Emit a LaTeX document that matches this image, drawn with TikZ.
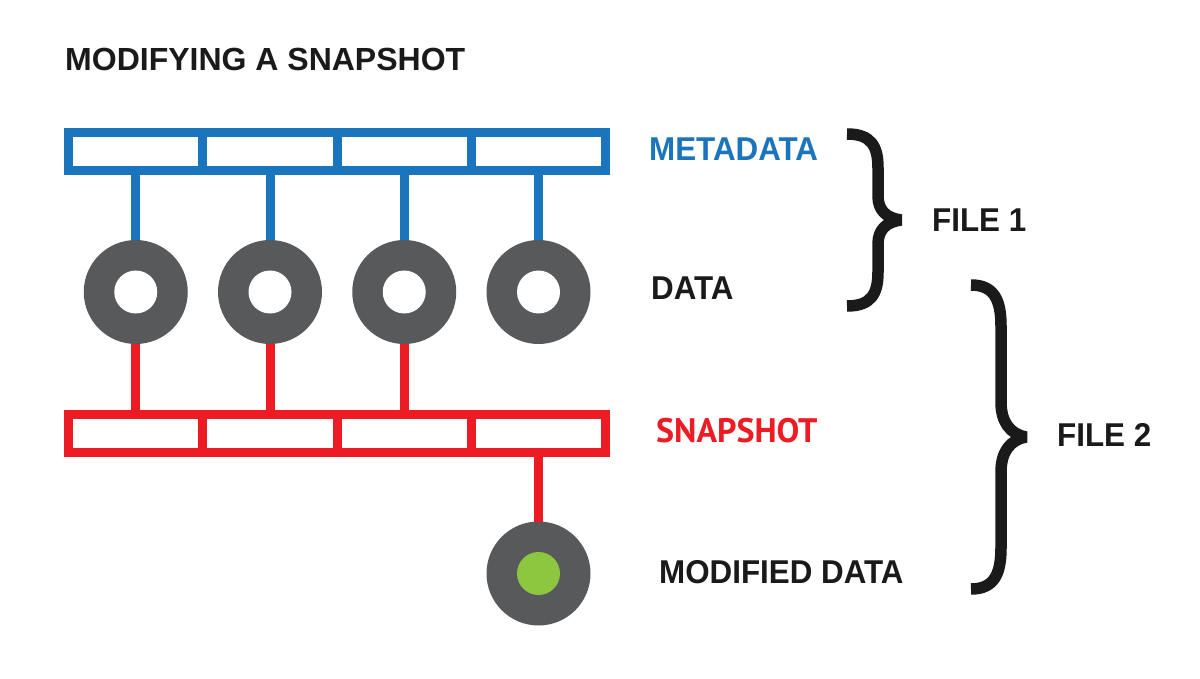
\documentclass[tikz,border=0pt]{standalone}
\usepackage{fontspec}
\setmainfont{Liberation Sans}
\newfontfamily\labfont[FakeStretch=0.95]{Liberation Sans}
\newfontfamily\snapfont{PT Sans}
\definecolor{mblue}{HTML}{1B75BC}
\definecolor{sred}{HTML}{ED1C24}
\definecolor{dgray}{HTML}{58595B}
\definecolor{mgreen}{HTML}{8DC63F}
\definecolor{tblack}{HTML}{1A1A1A}
\tikzset{
  cellbox/.style={rectangle, inner sep=0pt, outer sep=0pt, minimum width=134.25pt, minimum height=38pt, line width=9pt, fill=white},
  bluecell/.style={cellbox, draw=mblue},
  redcell/.style={cellbox, draw=sred},
  donut/.style={circle, inner sep=0pt, outer sep=0pt, minimum size=104pt, fill=dgray},
  bluelink/.style={draw=mblue, line width=9pt},
  redlink/.style={draw=sred, line width=9pt},
  lab/.style={anchor=base west, inner sep=0pt, text=tblack, font=\labfont\bfseries\fontsize{33}{38}\selectfont},
  bracepath/.style={draw=tblack, line width=11.5pt, line join=bevel},
}
\begin{document}
\begin{tikzpicture}[x=1pt,y=-1pt]
\useasboundingbox[fill=white] (0,0) rectangle (1200,679);
% title
\node[anchor=base west, inner sep=0pt, text=tblack, font=\bfseries\fontsize{32}{38}\selectfont] (title) at (65,71) {MODIFYING A SNAPSHOT};
% metadata cells
\foreach \i/\x in {1/135.75,2/270,3/404.25,4/538.5}{
  \node[bluecell] (m\i) at (\x,151.5) {};
}
% data donuts
\foreach \i/\x in {1/135.75,2/270,3/404.25,4/538.5}{
  \node[donut] (d\i) at (\x,292) {};
  \fill[white] (d\i.center) circle (21.5);
}
% snapshot cells
\foreach \i/\x in {1/135.75,2/270,3/404.25,4/538.5}{
  \node[redcell] (s\i) at (\x,433) {};
}
% links
\foreach \i in {1,2,3,4}{
  \path[bluelink] (m\i.south) -- (d\i.north);
}
\foreach \i in {1,2,3}{
  \path[redlink] (d\i.south) -- (s\i.north);
}
% modified data donut
\node[donut] (g) at (538.5,573.5) {};
\fill[mgreen] (g.center) circle (21.5);
\path[redlink] (s4.south) -- (g.north);
% labels
\node[lab, text=mblue] (lmeta) at (649,161) {METADATA};
\node[lab] (ldata) at (651,300) {DATA};
\node[anchor=base west, inner sep=0pt, text=sred, font=\snapfont\bfseries\fontsize{34}{40}\selectfont] (lsnap) at (656,442) {SNAPSHOT};
\node[lab] (lmod) at (659,583) {MODIFIED DATA};
\node[lab] (lf1) at (932,232) {FILE 1};
\node[lab] (lf2) at (1057,446) {FILE 2};
% braces
\path[bracepath] (847,134) .. controls (871,134) and (878,146) .. (878,168)
  -- (878,196) .. controls (878,210) and (886,218) .. (901,220)
  .. controls (886,222) and (878,230) .. (878,244)
  -- (878,272) .. controls (878,294) and (871,306) .. (847,306);
\path[bracepath] (971,285) .. controls (994,285) and (1001,300) .. (1001,326)
  -- (1001,402) .. controls (1001,422) and (1010,434) .. (1026,437)
  .. controls (1010,440) and (1001,452) .. (1001,472)
  -- (1001,548) .. controls (1001,574) and (994,589) .. (971,589);
\end{tikzpicture}
\end{document}
